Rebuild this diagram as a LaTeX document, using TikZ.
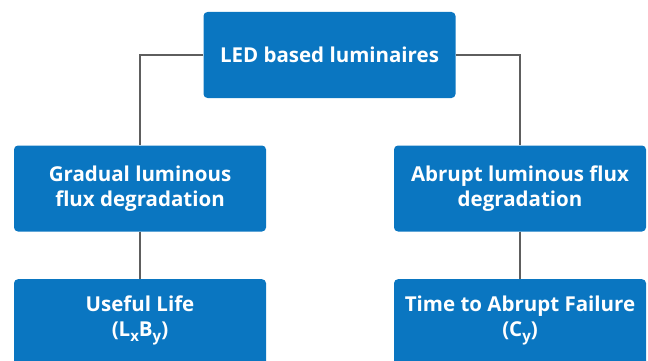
\documentclass[tikz,border=0pt]{standalone}
\usepackage{fontspec}
\setmainfont{Open Sans}
\definecolor{boxblue}{HTML}{0A76C1}
\definecolor{linegray}{HTML}{5E5E5E}
\newcommand{\mysub}[1]{\raisebox{-0.28em}{\fontsize{15}{15}\selectfont #1}}
\begin{document}
\begin{tikzpicture}[x=1pt,y=-1pt,
  txt/.style={text=white, font=\fontsize{20.5}{25}\selectfont\bfseries, align=center},
  box/.style={txt, fill=boxblue, rounded corners=4pt, minimum width=252pt, inner sep=0pt},
  conn/.style={draw=linegray, line width=2.4pt}]
\useasboundingbox (0,0) rectangle (648,361);
\node[box, minimum height=86pt] (top) at (329.5,55) {LED based luminaires};
\node[box, minimum height=86pt] (gl) at (140,188.5) {Gradual luminous\\flux degradation};
\node[box, minimum height=86pt] (ab) at (520,188.5) {Abrupt luminous flux\\degradation};
\fill[boxblue] (14,300) rectangle (266,370);
\fill[boxblue] (394,300) rectangle (646,370);
\node[box, minimum height=90pt, anchor=north] (ul) at (140,279) {};
\node[box, minimum height=90pt, anchor=north] (ta) at (520,279) {};
\node[txt] (ult) at (140,320.5) {Useful Life\\(L\mysub{x}B\mysub{y})};
\node[txt] (tat) at (520,320.5) {Time to Abrupt Failure\\(C\mysub{y})};
\draw[conn] (top.west) -| (gl.north);
\draw[conn] (top.east) -| (ab.north);
\draw[conn] (gl.south) -- (ul.north);
\draw[conn] (ab.south) -- (ta.north);
\end{tikzpicture}
\end{document}
